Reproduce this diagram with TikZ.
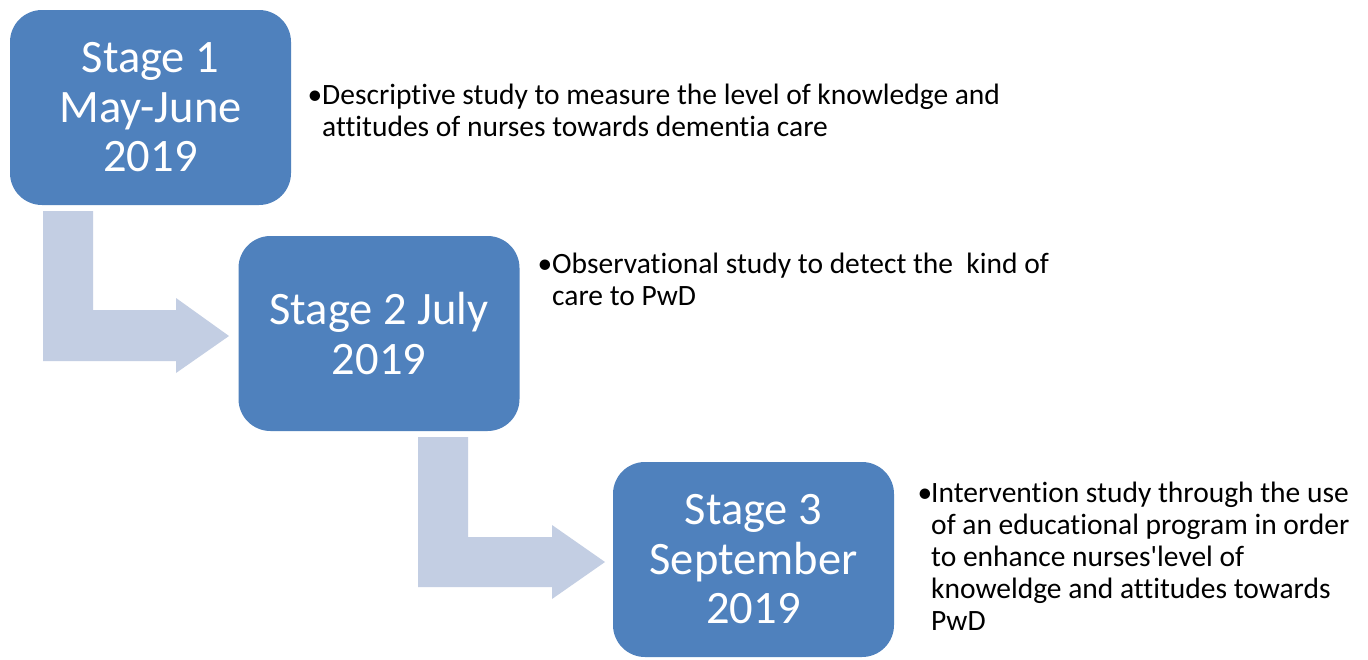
\documentclass[tikz,border=0pt]{standalone}
\usepackage{fontspec}
\setmainfont{Carlito}[Ligatures={NoCommon}]
\definecolor{boxblue}{HTML}{4F81BD}
\definecolor{arrowblue}{HTML}{C3CEE3}
\begin{document}
\begin{tikzpicture}[x=1pt,y=-1pt,
  stagebox/.style={fill=boxblue, draw=none, rounded corners=32pt, minimum width=281pt, minimum height=195pt,
    text=white, align=center, font=\fontsize{46.5}{49.5}\selectfont, inner sep=0pt},
  bullettext/.style={anchor=base west, inner sep=0pt, font=\fontsize{29.5}{32}\selectfont},
  bentarrow/.style={fill=arrowblue, draw=none}]
\fill[white] (0,0) rectangle (1368,659);
\useasboundingbox (0,0) rectangle (1368,659);

% bent arrows
\fill[bentarrow] (43,211) -- (93,211) -- (93,310) -- (176,310) -- (176,298) -- (229,336) -- (176,373) -- (176,361) -- (43,361) -- cycle;
\fill[bentarrow] (418,437) -- (468,437) -- (468,537) -- (552,537) -- (552,525) -- (605,562) -- (552,599) -- (552,587) -- (418,587) -- cycle;

% stage boxes
\node[stagebox] (s1) at (150.5,107.5) {Stage 1\\May-June\\2019};
\node[stagebox] (s2) at (379,333.5) {Stage 2 July\\2019};
\node[stagebox] (s3) at (753.5,559.5) {Stage 3\\September\\2019};

% descriptions
\node[bullettext] (t1) at (308.5,104) {\begin{tabular}[t]{@{}l@{}l@{}}\makebox[13.5pt][l]{\hspace{-1pt}•}&Descriptive study to measure the level of knowledge and\\ &attitudes of nurses towards dementia care\end{tabular}};
\node[bullettext] (t2) at (538.5,273) {\begin{tabular}[t]{@{}l@{}l@{}}\makebox[13.5pt][l]{\hspace{-1pt}•}&Observational study to detect the\ \ kind of\\ &care to PwD\end{tabular}};
\node[bullettext] (t3) at (918.5,502) {\begin{tabular}[t]{@{}l@{}l@{}}\makebox[12.5pt][l]{\hspace{-1pt}•}&Intervention study through the use\\ &of an educational program in order\\ &to enhance nurses\textquotesingle level of\\ &knoweldge and attitudes towards\\ &PwD\end{tabular}};
\end{tikzpicture}
\end{document}
